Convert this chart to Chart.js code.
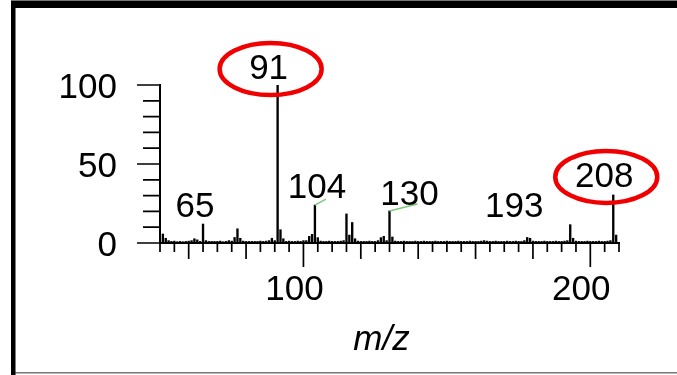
<!DOCTYPE html>
<html>
<head>
<meta charset="utf-8">
<script src="https://cdn.jsdelivr.net/npm/chart.js@4"></script>
<style>
    html, body { margin: 0; padding: 0; background: #fff; }
    #wrap { position: relative; width: 677px; height: 375px; }
</style>
</head>
<body>
<div id="wrap"><canvas id="spectrum" width="677" height="375"></canvas></div>
<script>
const mzValues = [
    50, 51, 52, 53, 54, 55, 56, 57, 58, 59,
    60, 61, 62, 63, 64, 65, 66, 67, 68, 69,
    70, 71, 72, 73, 74, 75, 76, 77, 78, 79,
    80, 81, 82, 83, 84, 85, 86, 87, 88, 89,
    90, 91, 92, 93, 94, 95, 96, 97, 98, 99,
    100, 101, 102, 103, 104, 105, 106, 107, 108, 109,
    110, 111, 112, 113, 114, 115, 116, 117, 118, 119,
    120, 121, 122, 123, 124, 125, 126, 127, 128, 129,
    130, 131, 132, 133, 134, 135, 136, 137, 138, 139,
    140, 141, 142, 143, 144, 145, 146, 147, 148, 149,
    150, 151, 152, 153, 154, 155, 156, 157, 158, 159,
    160, 161, 162, 163, 164, 165, 166, 167, 168, 169,
    170, 171, 172, 173, 174, 175, 176, 177, 178, 179,
    180, 181, 182, 183, 184, 185, 186, 187, 188, 189,
    190, 191, 192, 193, 194, 195, 196, 197, 198, 199,
    200, 201, 202, 203, 204, 205, 206, 207, 208, 209,
    210,
];

// relative abundance (%) for each m/z above
const intensities = [
    0.8, 5.7, 3.0, 1.5, 1.0, 1.2, 0.8, 1.0, 0.8, 1.0,
    1.2, 1.5, 2.7, 2.0, 1.0, 12.0, 1.5, 1.0, 1.0, 1.0,
    1.0, 1.2, 0.8, 1.0, 1.5, 1.2, 3.5, 9.0, 3.0, 1.2,
    1.0, 1.0, 1.0, 1.0, 1.0, 1.2, 1.0, 1.2, 1.5, 3.0,
    1.5, 100, 8.4, 2.7, 1.0, 1.2, 1.0, 1.0, 1.2, 1.0,
    1.5, 1.5, 4.2, 5.5, 24.0, 3.4, 1.2, 1.0, 1.0, 1.2,
    1.0, 1.0, 1.0, 1.2, 1.5, 18.4, 5.0, 13.0, 2.7, 1.2,
    1.0, 1.0, 1.0, 1.2, 1.0, 1.0, 1.5, 3.4, 4.2, 1.5,
    20.3, 3.8, 1.2, 1.0, 1.0, 1.2, 1.0, 1.0, 1.0, 1.2,
    1.0, 1.0, 1.2, 1.0, 1.0, 1.0, 1.2, 1.0, 1.0, 1.0,
    1.2, 1.0, 1.0, 1.0, 1.2, 1.0, 1.0, 1.0, 1.2, 1.0,
    1.0, 1.0, 1.2, 1.5, 1.2, 1.0, 1.0, 1.2, 1.0, 1.0,
    1.0, 1.2, 1.0, 1.0, 1.2, 1.0, 1.0, 1.5, 3.5, 3.0,
    1.2, 1.0, 1.0, 1.0, 1.2, 1.0, 1.0, 1.0, 1.2, 1.0,
    1.0, 1.2, 1.5, 11.6, 3.0, 1.2, 1.0, 1.0, 1.0, 1.2,
    1.0, 1.0, 1.0, 1.2, 1.0, 1.0, 1.2, 1.5, 30.4, 5.0,
    0.0,
];

const labelledPeaks = [65, 91, 104, 130, 193, 208];
const circledPeaks = [91, 208];
const xTickLabels = [100, 200];
const yTickLabels = [0, 50, 100];

const FONT = '"Liberation Sans", Arial, sans-serif';

// where each peak label sits relative to the top of its peak (px)
const labelOffsets = {
    65: [-8, -7],
    91: [-9, -6],
    104: [2, -7],
    130: [20, -6],
    193: [-56, -8],
    208: [-9, -8],
};

// green leader lines from peak tip towards the shifted labels
const leaderEnds = {
    104: [11, -6],
    130: [28, -7],
};

const spectrumDecor = {
    id: "spectrumDecor",
    beforeDraw(chart) {
        const ctx = chart.ctx;
        ctx.save();
        ctx.fillStyle = "#fff";
        ctx.fillRect(0, 0, chart.width, chart.height);
        // panel frame
        ctx.fillStyle = "#777";
        ctx.fillRect(11, 0, chart.width - 11, 1);
        ctx.fillRect(15, 372, chart.width - 15, 1.5);
        ctx.fillStyle = "#000";
        ctx.fillRect(11, 1, chart.width - 11, 7);
        ctx.fillRect(11, 1, 4.5, chart.height - 1);
        ctx.restore();
    },
    afterDraw(chart) {
        const ctx = chart.ctx;
        const xs = chart.scales.x;
        const ys = chart.scales.y;
        const area = chart.chartArea;

        ctx.save();
        ctx.strokeStyle = "#000";
        ctx.lineWidth = 1.7;

        // x tick marks: long at 100s, medium at 20s, short every 5
        ctx.beginPath();
        xs.ticks.forEach((t) => {
            const px = xs.getPixelForValue(t.value);
            let len = 9;
            if (t.value % 100 === 0) len = 24;
            else if (t.value % 20 === 0) len = 16;
            ctx.moveTo(px, area.bottom);
            ctx.lineTo(px, area.bottom + len);
        });
        // y tick marks: major at 50s, minor every 10
        ys.ticks.forEach((t) => {
            const py = ys.getPixelForValue(t.value);
            const len = t.value % 50 === 0 ? 23 : 17;
            ctx.moveTo(area.left, py);
            ctx.lineTo(area.left - len, py);
        });
        ctx.stroke();

        ctx.fillStyle = "#000";
        ctx.font = `35px ${FONT}`;

        ctx.textAlign = "right";
        ctx.textBaseline = "middle";
        yTickLabels.forEach((v) => {
            ctx.fillText(String(v), area.left - 43, ys.getPixelForValue(v) + 3);
        });

        ctx.textAlign = "center";
        xTickLabels.forEach((v) => {
            ctx.fillText(String(v), xs.getPixelForValue(v) - 9, area.bottom + 47);
        });

        ctx.font = `italic 35px ${FONT}`;
        ctx.fillText("m/z", (area.left + area.right) / 2 - 8, area.bottom + 97);

        // peak annotations
        ctx.font = `35px ${FONT}`;
        ctx.textBaseline = "alphabetic";
        labelledPeaks.forEach((mz) => {
            const px = xs.getPixelForValue(mz);
            const py = ys.getPixelForValue(intensities[mzValues.indexOf(mz)]);
            const [dx, dy] = labelOffsets[mz];
            const lx = px + dx;
            const ly = py + dy;

            if (leaderEnds[mz]) {
                const [ex, ey] = leaderEnds[mz];
                ctx.strokeStyle = "#7cc87c";
                ctx.lineWidth = 1.5;
                ctx.beginPath();
                ctx.moveTo(px, py);
                ctx.lineTo(px + ex, py + ey);
                ctx.stroke();
            }

            ctx.fillStyle = "#000";
            ctx.fillText(String(mz), lx, ly);

            if (circledPeaks.includes(mz)) {
                ctx.strokeStyle = "#f00000";
                ctx.lineWidth = 4.5;
                ctx.beginPath();
                ctx.ellipse(lx + 2, ly - 10, 51, 26, 0, 0, Math.PI * 2);
                ctx.stroke();
            }
        });
        ctx.restore();
    },
};

const ctx = document.getElementById("spectrum");

new Chart(ctx, {
    type: "bar",
    data: {
        datasets: [
            {
                data: mzValues.map((mz, i) => ({ x: mz, y: intensities[i] })),
                backgroundColor: "#000",
                borderWidth: 0,
                barThickness: 1.7,
            },
        ],
    },
    options: {
        responsive: false,
        animation: false,
        devicePixelRatio: 1,
        layout: {
            padding: { left: 160, right: 58, top: 85, bottom: 132 },
        },
        plugins: {
            legend: { display: false },
            tooltip: { enabled: false },
        },
        scales: {
            x: {
                type: "linear",
                min: 50,
                max: 210,
                offset: false,
                grid: { display: false, drawTicks: false },
                border: { display: true, color: "#000", width: 2 },
                ticks: { display: false, stepSize: 5 },
            },
            y: {
                min: 0,
                max: 100,
                grid: { display: false, drawTicks: false },
                border: { display: true, color: "#000", width: 2 },
                ticks: { display: false, stepSize: 10 },
            },
        },
    },
    plugins: [spectrumDecor],
});
</script>
</body>
</html>
